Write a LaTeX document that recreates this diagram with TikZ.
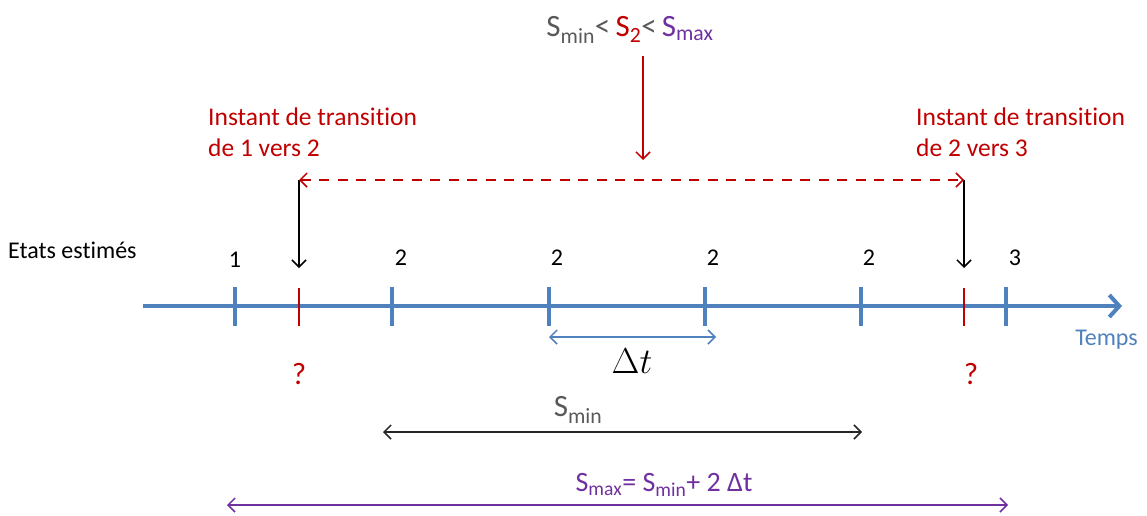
\documentclass[tikz,border=0pt]{standalone}
\usepackage{fontspec}
\setmainfont[Ligatures=NoCommon]{Carlito}
\usetikzlibrary{arrows.meta}
\definecolor{axblue}{RGB}{79,129,189}
\definecolor{dred}{RGB}{192,0,0}
\definecolor{purp}{RGB}{112,48,160}
\definecolor{dgray}{RGB}{89,89,89}
\begin{document}
\begin{tikzpicture}[x=1pt,y=-1pt,
  lbl/.style={inner sep=0pt,font=\fontsize{24}{28}\selectfont},
  redlbl/.style={inner sep=0pt,text=dred,align=left,font=\fontsize{25.5}{31}\selectfont},
  qmark/.style={inner sep=0pt,text=dred,font=\fontsize{31}{34}\selectfont},
  btick/.style={axblue,line width=3.5pt},
  rtick/.style={dred,line width=2pt},
  openarrow/.style={-{Straight Barb[length=7pt,width=14pt,line width=1.5pt]}},
  dblarrow/.style={{Straight Barb[length=7pt,width=14pt,line width=1.5pt]}-{Straight Barb[length=7pt,width=14pt,line width=1.5pt]}}]
\useasboundingbox (0,0) rectangle (1147,515);
% axis
\coordinate (a0) at (143,306);
\coordinate (a1) at (1122,306);
\draw[axblue,line width=4pt,-{Straight Barb[length=10pt,width=22pt,line width=4pt]}] (a0) -- (a1);
% blue ticks
\foreach \n/\x in {t1/235,t2/392,t3/549,t4/705,t5/861,t6/1006}{
  \coordinate (\n) at (\x,306);
  \draw[btick] (\x,287) -- (\x,326);
}
% red ticks
\coordinate (r1) at (299,306);
\coordinate (r2) at (964,306);
\draw[rtick] (299,288) -- (299,326);
\draw[rtick] (964,288) -- (964,326);
% state labels
\node[lbl] (n1) at (235,260) {1};
\node[lbl] (n2) at (401,258) {2};
\node[lbl] (n3) at (557,258) {2};
\node[lbl] (n4) at (713,258) {2};
\node[lbl] (n5) at (869,258) {2};
\node[lbl] (n6) at (1015,258) {3};
\node[lbl,anchor=west] (etats) at (8,250) {Etats estimés};
\node[lbl,anchor=east,text=axblue] (temps) at (1138,340) {Temps};
% transition labels
\node[redlbl,anchor=north west] (tr1) at (208,108) {Instant de transition\\de 1 vers 2};
\node[redlbl,anchor=north west] (tr2) at (916,108) {Instant de transition\\de 2 vers 3};
% black down arrows
\coordinate (d1top) at (299,180);
\coordinate (d1bot) at (299,268);
\coordinate (d2top) at (964,180);
\coordinate (d2bot) at (964,268);
\draw[black,line width=1.3pt,openarrow] (d1top) -- (d1bot);
\draw[black,line width=1.3pt,openarrow] (d2top) -- (d2bot);
% red dashed
\draw[dred,line width=2.5pt,dash pattern=on 10pt off 8.5pt,dblarrow] (d1top) -- (d2top);
% top label and arrow
\node[inner sep=0pt,text=dgray,font=\fontsize{31}{36}\selectfont] (top) at (630,30)
  {S\textsubscript{min}<\,\textcolor{dred}{S\textsubscript{2}}<\,\textcolor{purp}{S\textsubscript{max}}};
\coordinate (ra0) at (643,56);
\coordinate (ra1) at (643,160);
\draw[dred,line width=1.5pt,openarrow] (ra0) -- (ra1);
% question marks
\node[qmark] (q1) at (299,374) {?};
\node[qmark] (q2) at (971,374) {?};
% delta t
\coordinate (dt0) at (549,337);
\coordinate (dt1) at (716,337);
\draw[axblue,line width=1.3pt,dblarrow] (dt0) -- (dt1);
\node[inner sep=0pt,font=\fontsize{24}{28}\selectfont] (dt) at (632,361) {\scalebox{1.45}{$\Delta t$}};
% Smin
\coordinate (s0) at (383,432);
\coordinate (s1) at (862,432);
\draw[black!85,line width=2pt,dblarrow] (s0) -- (s1);
\node[inner sep=0pt,text=dgray,font=\fontsize{31}{36}\selectfont] (smin) at (578,410) {S\textsubscript{min}};
% Smax
\coordinate (m0) at (227,505);
\coordinate (m1) at (1008,505);
\draw[purp,line width=2pt,dblarrow] (m0) -- (m1);
\node[inner sep=0pt,text=purp,font=\fontsize{28}{32}\selectfont] (smax) at (664,485) {S\textsubscript{max}= S\textsubscript{min}+ 2 Δt};
\end{tikzpicture}
\end{document}
